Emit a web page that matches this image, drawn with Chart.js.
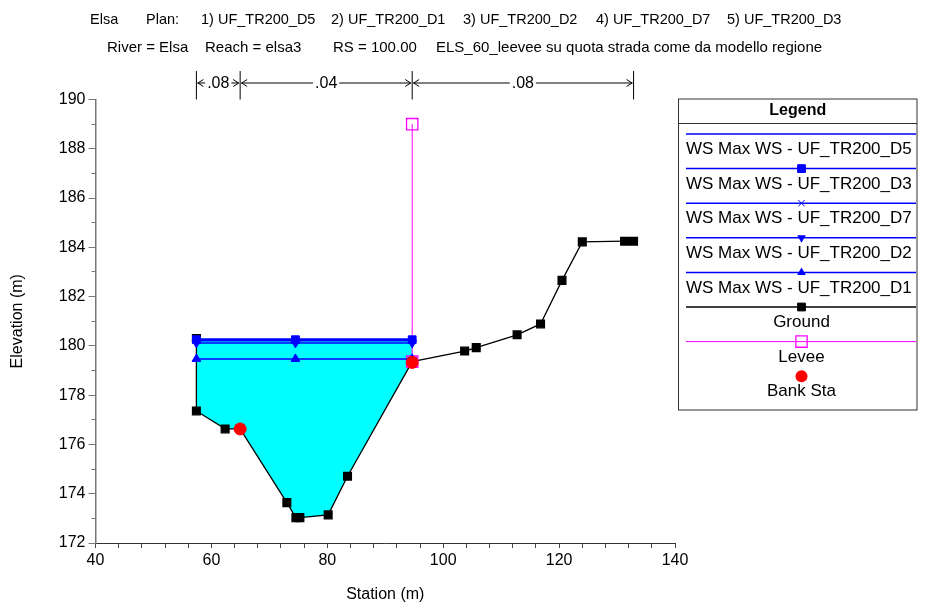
<!DOCTYPE html>
<html>
<head>
<meta charset="utf-8">
<script src="https://cdn.jsdelivr.net/npm/chart.js@4.4.1/dist/chart.umd.min.js"></script>
<style>
  html, body { margin: 0; padding: 0; background: #fff; }
  #wrap { width: 932px; height: 608px; }
</style>
</head>
<body>
<div id="wrap"><canvas id="xsChart" width="932" height="608"></canvas></div>
<script>
const groundSta  = [57.41, 57.41, 62.37, 64.96, 73.02, 74.58, 75.27, 80.15, 83.49, 94.65, 103.7, 105.7, 112.75, 116.8, 120.5, 124.0, 131.3, 132.85];
const groundElev = [180.30, 177.36, 176.63, 176.63, 173.64, 173.03, 173.03, 173.14, 174.71, 179.36, 179.79, 179.93, 180.45, 180.89, 182.66, 184.22, 184.25, 184.25];

// pelo libero massimo per ogni piano
const wsSta = [57.41, 74.5, 94.65];
const wsPlans = ['UF_TR200_D5', 'UF_TR200_D3', 'UF_TR200_D7', 'UF_TR200_D2', 'UF_TR200_D1'];
const wsElev = [180.28, 180.25, 180.21, 180.12, 179.47];

const leveeSta = [94.65, 94.65];
const leveeElev = [179.36, 189.0];

const bankSta = [64.96, 94.65];
const bankElev = [176.63, 179.33];

// coefficienti di Manning
const nBreaks = [57.41, 64.96, 94.65, 132.85];
const nValues = ['.08', '.04', '.08'];

const headerPlans = ['1) UF_TR200_D5', '2) UF_TR200_D1', '3) UF_TR200_D2', '4) UF_TR200_D7', '5) UF_TR200_D3'];
const headerInfo = ['River = Elsa', 'Reach = elsa3', 'RS = 100.00', 'ELS_60_leevee su quota strada come da modello regione'];

const FONT = 'Arial, "Liberation Sans", sans-serif';
Chart.defaults.font.family = FONT;
Chart.defaults.color = '#000';

const pts = (xs, ys) => xs.map((x, i) => ({ x: x, y: ys[i] }));

// poligono dell'acqua: dal pelo libero piu' alto fino al fondo
const wsTop = Math.max(...wsElev);
const waterPoly = [{ x: wsSta[0], y: wsTop }]
  .concat(pts(groundSta, groundElev).filter(p => p.x >= wsSta[0] && p.x <= wsSta[wsSta.length - 1] && p.y <= wsTop))
  .concat([{ x: wsSta[wsSta.length - 1], y: wsTop }]);

const wsStyles = [
  { pointStyle: 'circle', pointRadius: 0, rot: 0 },
  { pointStyle: 'rect', pointRadius: 5.5, rot: 0 },
  { pointStyle: 'crossRot', pointRadius: 4, rot: 0 },
  { pointStyle: 'triangle', pointRadius: 5, rot: 180 },
  { pointStyle: 'triangle', pointRadius: 5, rot: 0 }
];

const datasets = wsPlans.map((p, i) => ({
  label: 'WS Max WS - ' + p,
  data: pts(wsSta, wsSta.map(() => wsElev[i])),
  borderColor: '#0000ff',
  backgroundColor: '#0000ff',
  pointBorderColor: '#0000ff',
  borderWidth: 1.5,
  pointStyle: wsStyles[i].pointStyle,
  pointRadius: wsStyles[i].pointRadius,
  pointRotation: wsStyles[i].rot,
  pointBorderWidth: 1,
  fill: false,
  order: 1
}));

datasets.push({
  label: 'Ground',
  data: pts(groundSta, groundElev),
  borderColor: '#000',
  backgroundColor: '#000',
  borderWidth: 1.3,
  pointStyle: 'rect',
  pointRadius: 5.5,
  fill: false,
  order: 3
});
datasets.push({
  label: 'Levee',
  data: pts(leveeSta, leveeElev),
  borderColor: '#ff00ff',
  backgroundColor: 'rgba(255,255,255,0)',
  pointBorderColor: '#ff00ff',
  borderWidth: 1,
  pointStyle: 'rect',
  pointRadius: 8,
  pointBorderWidth: 1.3,
  fill: false,
  order: 2
});
datasets.push({
  label: 'Bank Sta',
  data: pts(bankSta, bankElev),
  showLine: false,
  borderColor: '#ff0000',
  backgroundColor: '#ff0000',
  pointStyle: 'circle',
  pointRadius: 6,
  fill: false,
  order: 0
});
datasets.push({
  label: 'water',
  data: waterPoly,
  borderColor: 'rgba(0,0,0,0)',
  backgroundColor: '#00ffff',
  borderWidth: 1,
  pointRadius: 0,
  fill: 'shape',
  order: 4
});

function drawMarker(ctx, ds, x, y) {
  const r = ds.pointRadius;
  if (!r) return;
  ctx.save();
  ctx.fillStyle = ds.backgroundColor;
  ctx.strokeStyle = ds.pointBorderColor || ds.borderColor;
  ctx.lineWidth = ds.pointBorderWidth || 1;
  ctx.beginPath();
  if (ds.pointStyle === 'rect') {
    const s = r * Math.SQRT1_2;
    ctx.rect(x - s, y - s, 2 * s, 2 * s);
    ctx.fill(); ctx.stroke();
  } else if (ds.pointStyle === 'circle') {
    ctx.arc(x, y, r, 0, Math.PI * 2);
    ctx.fill();
  } else if (ds.pointStyle === 'crossRot') {
    const s = r * 0.8;
    ctx.moveTo(x - s, y - s); ctx.lineTo(x + s, y + s);
    ctx.moveTo(x - s, y + s); ctx.lineTo(x + s, y - s);
    ctx.stroke();
  } else if (ds.pointStyle === 'triangle') {
    const d = ds.pointRotation === 180 ? -1 : 1;
    ctx.moveTo(x, y - d * r);
    ctx.lineTo(x + r * 0.87, y + d * r * 0.5);
    ctx.lineTo(x - r * 0.87, y + d * r * 0.5);
    ctx.closePath();
    ctx.fill();
  }
  ctx.restore();
}

const decorPlugin = {
  id: 'decor',
  afterDraw(chart) {
    const ctx = chart.ctx;
    const xs = chart.scales.x;
    const top = chart.chartArea.top;
    ctx.save();
    ctx.fillStyle = '#000';
    ctx.strokeStyle = '#000';
    ctx.lineWidth = 1;
    ctx.textBaseline = 'middle';

    // intestazione
    ctx.font = '14.5px ' + FONT;
    ctx.textAlign = 'left';
    ctx.fillText('Elsa', 90, 20);
    ctx.fillText('Plan:', 146, 20);
    [201, 331, 463, 596, 727].forEach((x, i) => ctx.fillText(headerPlans[i], x, 20));
    ctx.font = '15px ' + FONT;
    [107, 205, 333, 436].forEach((x, i) => ctx.fillText(headerInfo[i], x, 48));

    // tratti di Manning
    const px = nBreaks.map(v => xs.getPixelForValue(v));
    ctx.beginPath();
    px.forEach(p => { ctx.moveTo(p, 71); ctx.lineTo(p, top); });
    ctx.stroke();
    const ay = 83;
    ctx.font = '16px ' + FONT;
    ctx.textAlign = 'center';
    nValues.forEach((n, i) => {
      const a = px[i], b = px[i + 1], m = (a + b) / 2;
      const tw = ctx.measureText(n).width;
      ctx.fillText(n, m, ay + 1);
      ctx.beginPath();
      ctx.moveTo(a + 1, ay); ctx.lineTo(m - tw / 2 - 2, ay);
      ctx.moveTo(m + tw / 2 + 2, ay); ctx.lineTo(b - 1, ay);
      ctx.moveTo(a + 7, ay - 3.5); ctx.lineTo(a + 1.5, ay); ctx.lineTo(a + 7, ay + 3.5);
      ctx.moveTo(b - 7, ay - 3.5); ctx.lineTo(b - 1.5, ay); ctx.lineTo(b - 7, ay + 3.5);
      ctx.stroke();
    });

    // legenda
    const L = 678.5, R = 917, T = 99, B = 410;
    ctx.strokeStyle = '#333';
    ctx.strokeRect(L, T, R - L, B - T);
    ctx.beginPath(); ctx.moveTo(L, 123.5); ctx.lineTo(R, 123.5); ctx.stroke();
    ctx.font = 'bold 16px ' + FONT;
    ctx.fillText('Legend', (L + R) / 2, 111);
    const mx = 801.5;
    chart.data.datasets.filter(d => d.label !== 'water').forEach((ds, i) => {
      const ly = 134 + 34.6 * i;
      if (ds.showLine !== false) {
        ctx.strokeStyle = ds.borderColor;
        ctx.lineWidth = ds.borderWidth;
        ctx.beginPath(); ctx.moveTo(686, ly); ctx.lineTo(916, ly); ctx.stroke();
      }
      drawMarker(ctx, ds, mx, ly);
      ctx.fillStyle = '#000';
      ctx.font = '17px ' + FONT;
      if (ds.label.indexOf('WS') === 0) {
        ctx.textAlign = 'left';
        ctx.fillText(ds.label, 686, ly + 15.5);
      } else {
        ctx.textAlign = 'center';
        ctx.fillText(ds.label, mx, ly + 15.5);
      }
    });
    ctx.restore();
  }
};

new Chart(document.getElementById('xsChart'), {
  type: 'line',
  data: { datasets: datasets },
  plugins: [decorPlugin],
  options: {
    responsive: false,
    animation: false,
    devicePixelRatio: 1,
    layout: { padding: { top: 99.5, right: 257, left: 0, bottom: 0 } },
    plugins: {
      legend: { display: false },
      tooltip: { enabled: false },
      title: { display: false }
    },
    scales: {
      x: {
        type: 'linear',
        min: 40, max: 140,
        afterFit: s => { s.height = 65; },
        ticks: {
          stepSize: 4, autoSkip: false, maxRotation: 0, padding: 3,
          font: { size: 16 },
          callback: v => (v % 20 === 0 ? v : '')
        },
        grid: { drawOnChartArea: false, tickLength: 5, color: '#444' },
        border: { color: '#333', width: 1 },
        title: { display: true, text: 'Station (m)', font: { size: 16 }, padding: { top: 0, bottom: 3.5 } }
      },
      y: {
        type: 'linear',
        min: 172, max: 190,
        weight: 1,
        afterFit: s => { s.width = 95.5; },
        ticks: { stepSize: 2, padding: 3, font: { size: 16 } },
        grid: { drawOnChartArea: false, tickLength: 7, color: '#777' },
        border: { color: '#777', width: 1.5 },
        title: { display: true, text: 'Elevation (m)', font: { size: 16 }, padding: { top: 8, bottom: 0 } }
      },
      yMinor: {
        type: 'linear',
        position: 'left',
        min: 172, max: 190,
        weight: 0,
        afterFit: s => { s.width = 0; },
        ticks: { stepSize: 1, padding: 0, font: { size: 1 }, callback: () => '' },
        grid: { drawOnChartArea: false, tickLength: 4, color: '#777' },
        border: { display: false }
      }
    }
  }
});
</script>
</body>
</html>
